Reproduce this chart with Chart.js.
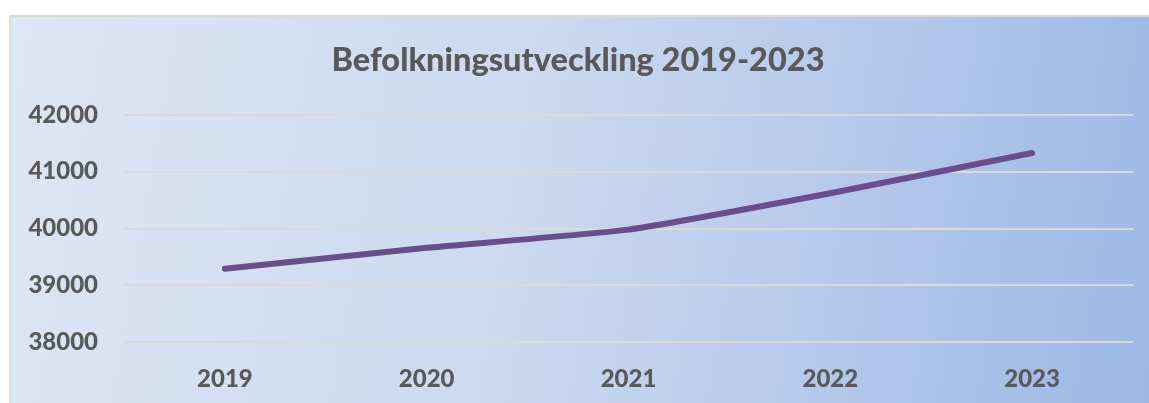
<!DOCTYPE html>
<html>
<head>
<meta charset="utf-8">
<script src="https://cdn.jsdelivr.net/npm/chart.js@4"></script>
<style>
  html, body { margin: 0; padding: 0; background: #fff; }
  #wrap { position: relative; width: 1149px; height: 403px; }
  #bg {
    position: absolute; left: 9px; top: 15px; right: 0; bottom: 0;
    border-left: 2px solid #e2dbc3; border-top: 2px solid #e2dbc3;
    background: linear-gradient(100deg, #dde6f4 0%, #ccd9ef 45%, #b2c7ea 75%, #9db8e5 100%);
  }
  canvas { position: absolute; left: 0; top: 0; }
</style>
</head>
<body>
<div id="wrap">
  <div id="bg"></div>
  <canvas id="chart" width="1149" height="403"></canvas>
</div>
<script>
const years = ['2019', '2020', '2021', '2022', '2023'];
const population = [39290, 39660, 39980, 40620, 41330];
const yTicks = [38000, 39000, 40000, 41000, 42000];

const textGrey = '#595959';

new Chart(document.getElementById('chart'), {
  type: 'line',
  data: {
    labels: years,
    datasets: [{
      data: population,
      borderColor: '#6a4d8c',
      borderWidth: 6,
      borderCapStyle: 'round',
      pointRadius: 0,
      tension: 0.15,
      fill: false
    }]
  },
  options: {
    responsive: false,
    animation: false,
    layout: { padding: { top: 20, right: 16, bottom: 0, left: 23 } },
    plugins: {
      legend: { display: false },
      tooltip: { enabled: false },
      title: {
        display: true,
        text: 'Befolkningsutveckling 2019-2023',
        color: textGrey,
        font: { family: 'Lato', size: 32.5, weight: '900' },
        padding: { top: 21, bottom: 35 }
      }
    },
    scales: {
      x: {
        offset: true,
        afterFit: (scale) => { scale.height = 61; },
        grid: { display: false, drawTicks: false },
        border: { display: false },
        ticks: {
          color: textGrey,
          padding: 23,
          font: { family: 'Lato', size: 24, weight: '900' }
        }
      },
      y: {
        min: 38000,
        max: 42000,
        afterFit: (scale) => { scale.width = 101; },
        afterBuildTicks: (scale) => { scale.ticks = yTicks.map(v => ({ value: v })); },
        grid: { color: '#dcdad6', lineWidth: 2, drawTicks: false },
        border: { display: false },
        ticks: {
          color: textGrey,
          padding: 26,
          font: { family: 'Lato', size: 24, weight: '900' },
          callback: (v) => String(v)
        }
      }
    }
  }
});
</script>
</body>
</html>
